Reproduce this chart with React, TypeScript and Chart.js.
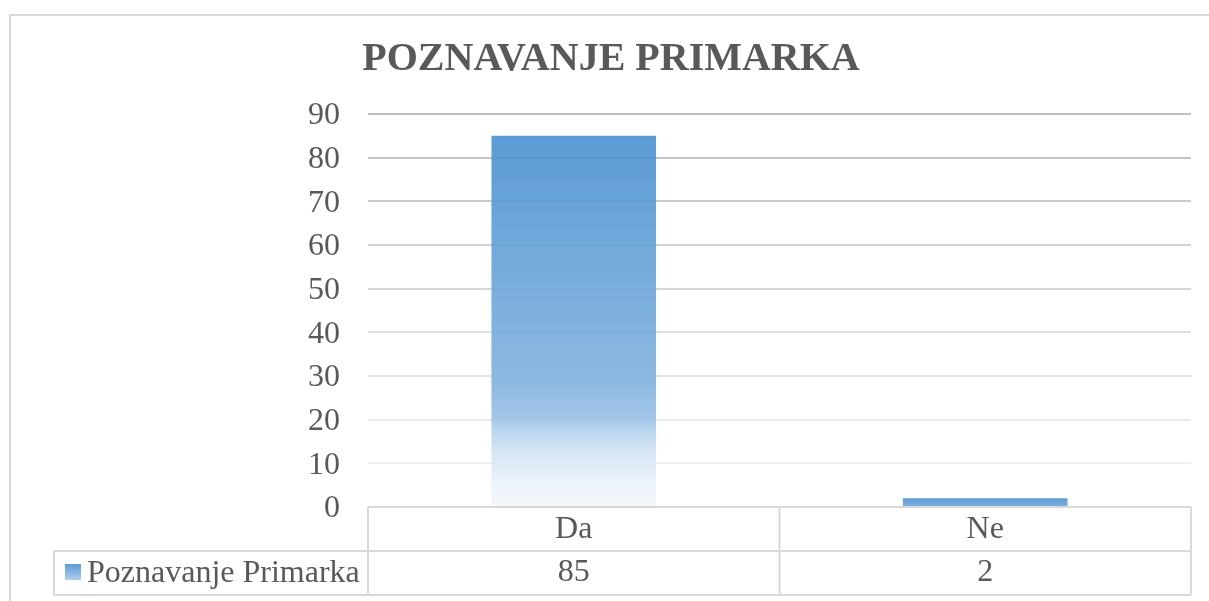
import React, { useEffect, useRef } from "react";
import { Chart, registerables } from "chart.js";

Chart.register(...registerables);

const chartTitle = "POZNAVANJE PRIMARKA";
const categories = ["Da", "Ne"];
const seriesName = "Poznavanje Primarka";
const seriesValues = [85, 2];
const yMin = 0;
const yMax = 90;
const yStep = 10;

const FONT = "'Liberation Serif', 'Times New Roman', serif";
const TEXT = "#595959";
const LINE = "#D9D9D9";

function pre(r: number, g: number, b: number, a: number) {
  const f = (c: number) => Math.max(0, Math.round((c - (1 - a) * 255) / a));
  return `rgba(${f(r)},${f(g)},${f(b)},${a})`;
}

const tablePlugin = {
  id: "excelTable",
  beforeDraw(chart: any) {
    const c = chart.ctx;
    c.save();
    c.fillStyle = "#ffffff";
    c.fillRect(0, 0, chart.width, chart.height);
    c.strokeStyle = LINE;
    c.lineWidth = 2;
    c.strokeRect(10, 15, chart.width + 50, chart.height + 50);
    c.restore();
  },
  afterDraw(chart: any) {
    const c = chart.ctx;
    const area = chart.chartArea;
    const xs = chart.scales.x;
    const left = area.left;
    const right = area.right;
    const top = area.bottom;
    const rowH = 44;
    const r1 = top + rowH;
    const r2 = r1 + rowH;
    const legendLeft = 54;
    c.save();

    // title
    c.fillStyle = TEXT;
    c.font = `bold 40px ${FONT}`;
    c.textAlign = "center";
    c.textBaseline = "alphabetic";
    c.fillText(chartTitle, 611, 70);

    c.strokeStyle = LINE;
    c.lineWidth = 2;
    c.beginPath();
    c.moveTo(left, top);
    c.lineTo(right, top);
    c.moveTo(legendLeft, r1);
    c.lineTo(right, r1);
    c.moveTo(legendLeft, r2);
    c.lineTo(right, r2);
    c.moveTo(legendLeft, r1);
    c.lineTo(legendLeft, r2);
    c.moveTo(left, top);
    c.lineTo(left, r2);
    c.moveTo(right, top);
    c.lineTo(right, r2);
    for (let i = 0; i < categories.length - 1; i++) {
      const mx = (xs.getPixelForValue(i) + xs.getPixelForValue(i + 1)) / 2;
      c.moveTo(mx, top);
      c.lineTo(mx, r2);
    }
    c.stroke();

    c.fillStyle = TEXT;
    c.font = `32px ${FONT}`;
    c.textAlign = "center";
    c.textBaseline = "alphabetic";
    categories.forEach((cat, i) => {
      const cx = xs.getPixelForValue(i);
      c.fillText(cat, cx, top + 31);
      c.fillText(String(seriesValues[i]), cx, r1 + 30);
    });

    // legend key
    const kg = c.createLinearGradient(0, r1 + 13, 0, r1 + 29);
    kg.addColorStop(0, "#5B9BD5");
    kg.addColorStop(1, "#B0CFEC");
    c.fillStyle = kg;
    c.fillRect(65, r1 + 13, 16, 16);
    c.fillStyle = TEXT;
    c.textAlign = "left";
    c.fillText(seriesName, 87, r1 + 31);
    c.restore();
  },
};

export default function App() {
  const ref = useRef<HTMLCanvasElement>(null);
  useEffect(() => {
    if (!ref.current) return;
    const chart = new Chart(ref.current, {
      type: "bar",
      data: {
        labels: categories,
        datasets: [
          {
            label: seriesName,
            data: seriesValues,
            barPercentage: 0.5,
            categoryPercentage: 0.8,
            borderWidth: 0,
            backgroundColor: (ctx: any) => {
              const chart = ctx.chart;
              if (!chart.chartArea || ctx.type !== "data") return "#5B9BD5";
              const ys = chart.scales.y;
              const t = ys.getPixelForValue(ctx.raw);
              const b = ys.getPixelForValue(0);
              const g = chart.ctx.createLinearGradient(0, t, 0, b);
              const a = 0.92;
              if (b - t < 40) {
                g.addColorStop(0, pre(91, 155, 213, a));
                g.addColorStop(1, pre(127, 178, 224, a));
                return g;
              }
              g.addColorStop(0, pre(91, 155, 213, a));
              g.addColorStop(0.66, pre(141, 185, 226, a));
              g.addColorStop(0.757, pre(162, 197, 233, a));
              g.addColorStop(0.8, pre(190, 215, 238, a));
              g.addColorStop(0.855, pre(215, 230, 245, a));
              g.addColorStop(0.93, pre(235, 242, 250, a));
              g.addColorStop(1, pre(245, 248, 252, a));
              return g;
            },
          },
        ],
      },
      options: {
        animation: false,
        responsive: false,
        devicePixelRatio: 1,
        layout: { padding: { left: 14, right: 18, top: 114, bottom: 94 } },
        plugins: {
          legend: { display: false },
          tooltip: { enabled: false },
          title: { display: false },
        },
        scales: {
          x: { display: false },
          y: {
            min: yMin,
            max: yMax,
            border: { display: false },
            grid: {
              drawTicks: false,
              lineWidth: 2,
              color: (ctx: any) => {
                const v = ctx.tick ? ctx.tick.value : 0;
                const gray = Math.round(191 + (yMax - v) * 0.6);
                return `rgb(${gray},${gray},${gray})`;
              },
            },
            ticks: {
              stepSize: yStep,
              color: TEXT,
              padding: 28,
              labelOffset: 2,
              font: { family: FONT, size: 32 },
            },
            afterFit: (scale: any) => {
              scale.width = 354;
            },
          },
        },
      },
      plugins: [tablePlugin],
    } as any);
    return () => chart.destroy();
  }, []);
  return (
    <canvas
      ref={ref}
      width={1209}
      height={601}
      style={{ position: "fixed", left: 0, top: 0, width: 1209, height: 601, display: "block" }}
    />
  );
}
